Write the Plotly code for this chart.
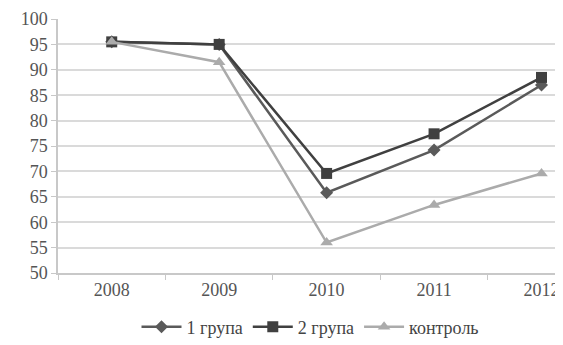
import plotly.graph_objects as go

years = ["2008", "2009", "2010", "2011", "2012"]
group1 = [95.5, 95.0, 65.8, 74.2, 87.0]
group2 = [95.5, 95.0, 69.6, 77.4, 88.5]
control = [95.5, 91.5, 56.0, 63.4, 69.6]
y_ticks = [50, 55, 60, 65, 70, 75, 80, 85, 90, 95, 100]

fig = go.Figure()
fig.add_trace(go.Scatter(x=years, y=group1, name="1 група", mode="lines+markers",
                         line=dict(color="#5a5a5a", width=2.5),
                         marker=dict(symbol="diamond", size=10, color="#5a5a5a")))
fig.add_trace(go.Scatter(x=years, y=group2, name="2 група", mode="lines+markers",
                         line=dict(color="#404040", width=2.5),
                         marker=dict(symbol="square", size=11, color="#404040")))
fig.add_trace(go.Scatter(x=years, y=control, name="контроль", mode="lines+markers",
                         line=dict(color="#ababab", width=2.5),
                         marker=dict(symbol="triangle-up", size=11, color="#ababab")))

font = "Liberation Serif, Times New Roman, serif"
fig.update_layout(
    width=555, height=337,
    margin=dict(l=50, r=0, t=11, b=72, autoexpand=False),
    paper_bgcolor="white", plot_bgcolor="white",
    font=dict(family=font, size=18, color="#555555"),
    showlegend=True,
    legend=dict(orientation="h", x=0.5, xanchor="center", y=-0.213, yanchor="middle",
                font=dict(family=font, size=18, color="#444444"),
                itemwidth=40, tracegroupgap=0),
    xaxis=dict(type="category", categoryorder="array", categoryarray=years,
               range=[-0.5, 4.2], showgrid=False, showline=True, linecolor="#c8c8c8",
               linewidth=1.5, ticks="outside", tickson="boundaries", ticklen=5,
               tickcolor="#c8c8c8", automargin=False,
               tickfont=dict(family=font, size=18, color="#555555")),
    yaxis=dict(range=[50, 100], tickvals=y_ticks, showgrid=True, gridcolor="#dadada",
               gridwidth=1.5, showline=True, linecolor="#c8c8c8", linewidth=1.5,
               ticks="outside", ticklen=5, tickcolor="#c8c8c8", zeroline=False,
               automargin=False,
               tickfont=dict(family=font, size=18, color="#555555")),
)
fig.write_html("out.html")
